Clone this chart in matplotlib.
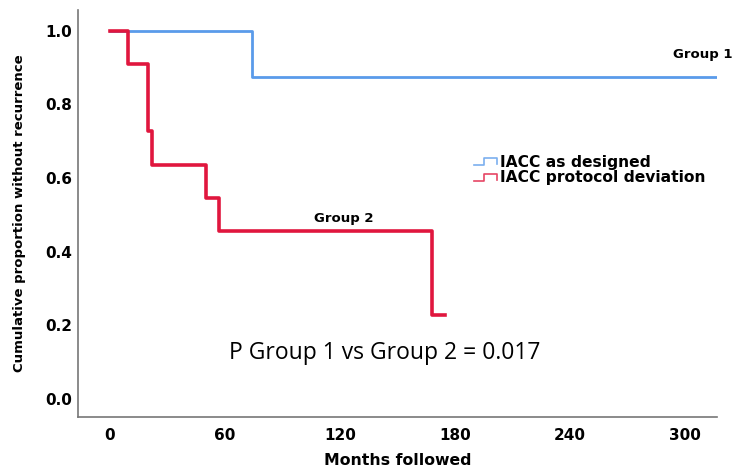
import matplotlib
matplotlib.use("Agg")
import matplotlib.pyplot as plt
from matplotlib.legend_handler import HandlerBase
from matplotlib.lines import Line2D

# Data
g1_time = [0, 9.4, 74, 316]
g1_surv = [1.0, 1.0, 0.875, 0.875]
g2_time = [0, 9.4, 19.8, 21.7, 49.9, 56.9, 167.8, 174.8]
g2_surv = [1.0, 0.909, 0.727, 0.636, 0.545, 0.455, 0.227, 0.227]
xticks = [0, 60, 120, 180, 240, 300]
yticks = [0.0, 0.2, 0.4, 0.6, 0.8, 1.0]
labels = ["IACC as designed", "IACC protocol deviation"]
blue = "#5a9bea"
red = "#e0163e"

fig = plt.figure(figsize=(7.35, 4.72), dpi=100)
ax = fig.add_axes([0.106, 0.1165, 0.8695, 0.8625])

l1, = ax.step(g1_time, g1_surv, where="post", color=blue, lw=2.0)
l2, = ax.step(g2_time, g2_surv, where="post", color=red, lw=2.6)

ax.set_xlim(-16.7, 316.7)
ax.set_ylim(-0.05, 1.057)
ax.set_xticks(xticks)
ax.set_yticks(yticks)
ax.set_xticklabels([str(t) for t in xticks], fontweight="bold", fontsize=11, family="DejaVu Sans")
ax.set_yticklabels([f"{t:.1f}" for t in yticks], fontweight="bold", fontsize=11, family="DejaVu Sans")
ax.tick_params(axis="y", length=0, pad=4)
ax.tick_params(axis="x", length=0, pad=8)
for s in ["top", "right"]:
    ax.spines[s].set_visible(False)
for s in ["left", "bottom"]:
    ax.spines[s].set_color("#777777")
    ax.spines[s].set_linewidth(1.2)

ax.set_xlabel("Months followed", fontweight="bold", fontsize=11.3, labelpad=7)
ax.set_ylabel("Cumulative proportion without recurrence", fontweight="bold", fontsize=9.5, labelpad=14)

ax.text(325, 0.935, "Group 1", ha="right", va="center", fontweight="bold", fontsize=9.5,
        clip_on=False)
ax.text(122, 0.49, "Group 2", ha="center", va="center", fontweight="bold", fontsize=9.5)
ax.text(143.5, 0.125, "P Group 1 vs Group 2 = 0.017", ha="center", va="center",
        fontsize=16.5, family="Open Sans")


class StepHandler(HandlerBase):
    def create_artists(self, legend, orig_handle, xdescent, ydescent, width, height, fontsize, trans):
        w, h = width, height
        xs = [0, 0.45 * w, 0.45 * w, w, w]
        ys = [0.1 * h, 0.1 * h, 0.8 * h, 0.8 * h, 0.2 * h]
        ln = Line2D(xs, ys, color=orig_handle.get_color(), lw=1.2, alpha=0.8, transform=trans)
        return [ln]


leg = ax.legend([l1, l2], labels, handler_map={Line2D: StepHandler()},
                loc="upper left", bbox_to_anchor=(0.61, 0.66), frameon=False,
                prop={"weight": "bold", "size": 11.2}, handlelength=1.5, handletextpad=0.2,
                labelspacing=0.05, borderaxespad=0)

fig.savefig("out.png", dpi=100)
